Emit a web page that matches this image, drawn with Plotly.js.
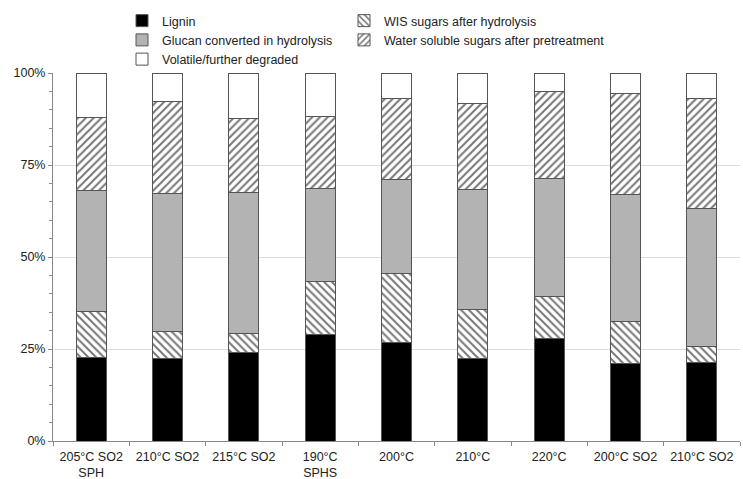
<!DOCTYPE html>
<html>
<head>
<meta charset="utf-8">
<script src="https://cdn.plot.ly/plotly-3.0.1.min.js"></script>
<style>html,body{margin:0;padding:0;background:#fff;}#chart{width:743px;height:479px;}</style>
</head>
<body>
<div id="chart"></div>
<script>
var categories = ["205°C SO2<br>SPH", "210°C SO2", "215°C SO2", "190°C<br>SPHS", "200°C", "210°C", "220°C", "200°C SO2", "210°C SO2"];
var lignin      = [22.6, 22.3, 24.0, 29.0, 26.7, 22.4, 27.9, 21.0, 21.4];
var wisSugars   = [12.5, 7.4, 5.2, 14.3, 18.7, 13.3, 11.3, 11.4, 4.4];
var glucanConv  = [33.1, 37.6, 38.4, 25.3, 25.7, 32.6, 32.1, 34.5, 37.4];
var waterSol    = [19.6, 25.0, 20.0, 19.5, 21.9, 23.4, 23.6, 27.5, 29.9];
var volatile    = [12.2, 7.7, 12.4, 11.9, 7.0, 8.3, 5.1, 5.6, 6.9];

var positions = categories.map(function (_, i) { return i; });
var outline = {color: '#555', width: 1};
var common = {type: 'bar', x: positions, width: 0.39, hoverinfo: 'y+name'};

var traces = [
  Object.assign({}, common, {name: 'Lignin', y: lignin, legend: 'legend',
    marker: {color: '#000000', line: outline}}),
  Object.assign({}, common, {name: 'WIS sugars after hydrolysis', y: wisSugars, legend: 'legend2',
    marker: {color: '#ffffff', line: outline,
      pattern: {shape: '\\', fillmode: 'replace', fgcolor: '#767676', bgcolor: '#ffffff', size: 5.5, solidity: 0.35}}}),
  Object.assign({}, common, {name: 'Glucan converted in hydrolysis', y: glucanConv, legend: 'legend',
    marker: {color: '#b3b3b3', line: outline}}),
  Object.assign({}, common, {name: 'Water soluble sugars after pretreatment', y: waterSol, legend: 'legend2',
    marker: {color: '#ffffff', line: outline,
      pattern: {shape: '/', fillmode: 'replace', fgcolor: '#767676', bgcolor: '#ffffff', size: 5.5, solidity: 0.35}}}),
  Object.assign({}, common, {name: 'Volatile/further degraded', y: volatile, legend: 'legend',
    marker: {color: '#ffffff', line: outline}})
];

var legendBase = {
  orientation: 'v', traceorder: 'normal',
  xref: 'container', yref: 'container',
  xanchor: 'left', y: 1 - 6/479, yanchor: 'top',
  itemwidth: 30, tracegroupgap: 0,
  font: {size: 12.5, color: '#222'},
  bgcolor: 'rgba(0,0,0,0)'
};

var layout = {
  width: 743, height: 479,
  margin: {l: 53, r: 3, t: 73, b: 38, pad: 0, autoexpand: false},
  paper_bgcolor: '#fff', plot_bgcolor: '#fff',
  barmode: 'stack',
  font: {family: 'Liberation Sans, Arial, sans-serif', size: 12, color: '#222'},
  showlegend: true,
  legend: Object.assign({}, legendBase, {x: 122/743}),
  legend2: Object.assign({}, legendBase, {x: 344/743}),
  xaxis: {
    range: [-0.5, categories.length - 0.5],
    tickvals: positions, ticktext: categories,
    showline: true, linecolor: '#888', linewidth: 1,
    ticks: '', showgrid: false, zeroline: false,
    minor: {tick0: -0.5, dtick: 1, ticks: 'outside', ticklen: 4, tickcolor: '#888', showgrid: false},
    tickfont: {size: 12.5, color: '#222'}, tickangle: 0, automargin: false,
    ticklabelstandoff: 4
  },
  yaxis: {
    range: [0, 100], dtick: 25, ticksuffix: '%',
    showline: true, linecolor: '#888', linewidth: 1,
    ticks: 'outside', ticklen: 4, tickcolor: '#888',
    showgrid: true, gridcolor: '#dcdcdc', gridwidth: 1,
    zeroline: false, automargin: false,
    minor: {dtick: 5, ticks: 'outside', ticklen: 3, tickcolor: '#888', showgrid: false},
    tickfont: {size: 12.5, color: '#222'}
  }
};

Plotly.newPlot('chart', traces, layout, {displayModeBar: false, staticPlot: true});
</script>
</body>
</html>
